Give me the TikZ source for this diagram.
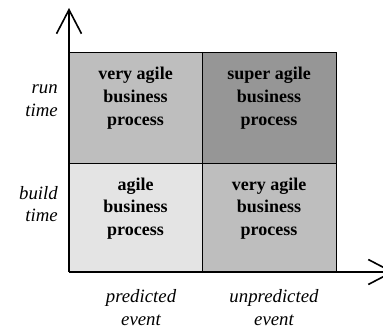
\documentclass[tikz,border=0pt]{standalone}
\usepackage{fontspec}
\setmainfont{Liberation Serif}
\usetikzlibrary{arrows.meta}
\definecolor{cellA}{HTML}{BEBEBE}
\definecolor{cellB}{HTML}{969696}
\definecolor{cellC}{HTML}{E4E4E4}
\tikzset{
  cell/.style={draw=black, line width=0.9pt},
  celltext/.style={font=\fontsize{18}{22.7}\selectfont\bfseries, align=center, anchor=north, inner sep=0pt},
  axlabel/.style={font=\fontsize{18.8}{22.5}\selectfont\itshape, inner sep=0pt},
  axis/.style={line width=1.6pt, -{Straight Barb[length=24pt, width=25pt, line width=1.6pt]}}
}
\begin{document}
\begin{tikzpicture}[x=1pt,y=-1pt]
\useasboundingbox (0,0) rectangle (383,329);
% cells
\fill[cellA] (69,52) rectangle (202,163);
\fill[cellB] (202,52) rectangle (336,163);
\fill[cellC] (69,163) rectangle (202,272);
\fill[cellA] (202,163) rectangle (336,272);
\draw[cell] (69,52) rectangle (336,272);
\draw[cell] (202,52) -- (202,272);
\draw[cell] (69,163) -- (336,163);
% cell texts
\node[celltext] (tl) at (135.5,67) {very agile\\business\\process};
\node[celltext] (tr) at (269,67) {super agile\\business\\process};
\node[celltext] (bl) at (135.5,177.5) {agile\\business\\process};
\node[celltext] (br) at (269,177.5) {very agile\\business\\process};
% axes
\coordinate (o) at (69,272);
\coordinate (ytip) at (69,8);
\coordinate (xtip) at (394,272);
\draw[axis] (o) -- (ytip);
\draw[axis] (o) -- (xtip);
% axis labels
\node[axlabel, anchor=east, align=right] (rt) at (58,100.5) {run\\time};
\node[axlabel, anchor=east, align=right] (bt) at (58,204) {build\\time};
\node[axlabel, align=center] (pe) at (141,307.5) {predicted\\event};
\node[axlabel, align=center] (ue) at (274,307.5) {unpredicted\\event};
\end{tikzpicture}
\end{document}
